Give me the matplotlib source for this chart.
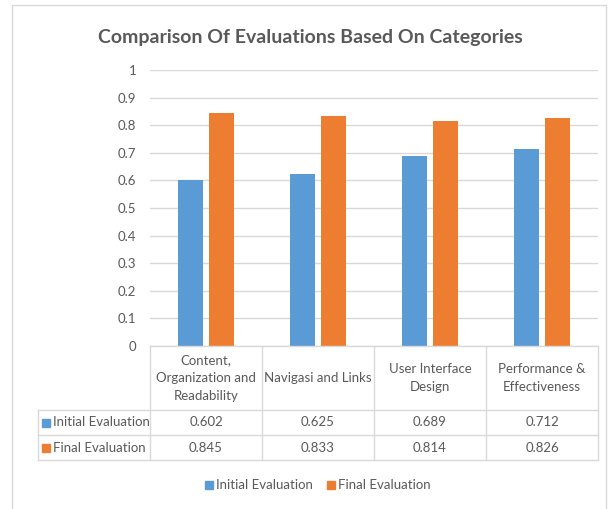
import matplotlib
matplotlib.use("Agg")
import matplotlib.pyplot as plt
from matplotlib.lines import Line2D
from matplotlib.patches import Rectangle
import numpy as np

categories = ["Content,\nOrganization and\nReadability", "Navigasi and Links",
              "User Interface\nDesign", "Performance &\nEffectiveness"]
series_names = ["Initial Evaluation", "Final Evaluation"]
initial = [0.602, 0.625, 0.689, 0.712]
final = [0.845, 0.833, 0.814, 0.826]
value_labels_initial = ["0.602", "0.625", "0.689", "0.712"]
value_labels_final = ["0.845", "0.833", "0.814", "0.826"]
yticks = [0, 0.1, 0.2, 0.3, 0.4, 0.5, 0.6, 0.7, 0.8, 0.9, 1]
ytick_labels = ["0", "0.1", "0.2", "0.3", "0.4", "0.5", "0.6", "0.7", "0.8", "0.9", "1"]

BLUE = "#5B9BD5"
ORANGE = "#ED7D31"
GRID = "#D9D9D9"
TXT = "#595959"
FONT = ["Lato", "DejaVu Sans"]
plt.rcParams['font.family'] = FONT
FS = 9.5

W, H = 614, 509
fig = plt.figure(figsize=(W / 100, H / 100), dpi=100)

def fx(px):
    return px / W

def fy(py):
    return 1 - py / H

# chart frame
fig.add_artist(Rectangle((fx(12), fy(512)), fx(606) - fx(12), fy(5) - fy(512),
                         transform=fig.transFigure, fill=False, edgecolor=GRID, lw=1))

L, R, T, B = 150, 598, 70, 346
ax = fig.add_axes([fx(L), fy(B), fx(R) - fx(L), fy(T) - fy(B)])
x = np.arange(len(categories))
bw = 0.22
off = 0.14
ax.bar(x - off, initial, bw, color=BLUE, zorder=3)
ax.bar(x + off, final, bw, color=ORANGE, zorder=3)
ax.set_xlim(-0.5, len(categories) - 0.5)
ax.set_ylim(0, 1)
ax.set_yticks(yticks)
ax.set_yticklabels(ytick_labels, color=TXT, fontsize=FS)
ax.yaxis.grid(True, color=GRID, lw=1, zorder=0)
ax.set_xticks([])
ax.tick_params(axis='y', length=0, pad=10)
for s in ax.spines.values():
    s.set_visible(False)

fig.text(fx(310), fy(37), "Comparison Of Evaluations Based On Categories",
         ha='center', va='center', fontsize=14, fontweight='bold', color=TXT)

# data table
row_y = [346, 410, 435, 460]
col_x = [150, 262, 374, 486, 598]
left_x = 38

def hline(y, x0, x1):
    fig.add_artist(Line2D([fx(x0), fx(x1)], [fy(y), fy(y)], transform=fig.transFigure, color=GRID, lw=1))

def vline(xp, y0, y1):
    fig.add_artist(Line2D([fx(xp), fx(xp)], [fy(y0), fy(y1)], transform=fig.transFigure, color=GRID, lw=1))

hline(row_y[0], col_x[0], col_x[-1])
for y in row_y[1:]:
    hline(y, left_x, col_x[-1])
vline(left_x, row_y[1], row_y[-1])
for xp in col_x:
    vline(xp, row_y[0], row_y[-1])

for i, cat in enumerate(categories):
    cx = (col_x[i] + col_x[i + 1]) / 2
    fig.text(fx(cx), fy((row_y[0] + row_y[1]) / 2), cat, ha='center', va='center',
             fontsize=FS, color=TXT, linespacing=1.6)
    fig.text(fx(cx), fy((row_y[1] + row_y[2]) / 2), value_labels_initial[i],
             ha='center', va='center', fontsize=FS, color=TXT)
    fig.text(fx(cx), fy((row_y[2] + row_y[3]) / 2), value_labels_final[i],
             ha='center', va='center', fontsize=FS, color=TXT)

for j, (name, c) in enumerate(zip(series_names, [BLUE, ORANGE])):
    yc = (row_y[1 + j] + row_y[2 + j]) / 2
    fig.add_artist(Rectangle((fx(42), fy(yc + 4)), fx(8), fy(0) - fy(8),
                             transform=fig.transFigure, color=c))
    fig.text(fx(53), fy(yc), name, ha='left', va='center', fontsize=FS, color=TXT)

# legend
leg_y = 485
items = [(series_names[0], BLUE, 205), (series_names[1], ORANGE, 327)]
for name, c, xp in items:
    fig.add_artist(Rectangle((fx(xp), fy(leg_y + 4)), fx(8), fy(0) - fy(8),
                             transform=fig.transFigure, color=c))
    fig.text(fx(xp + 11), fy(leg_y), name, ha='left', va='center', fontsize=FS, color=TXT)

fig.savefig("out.png", dpi=100)
